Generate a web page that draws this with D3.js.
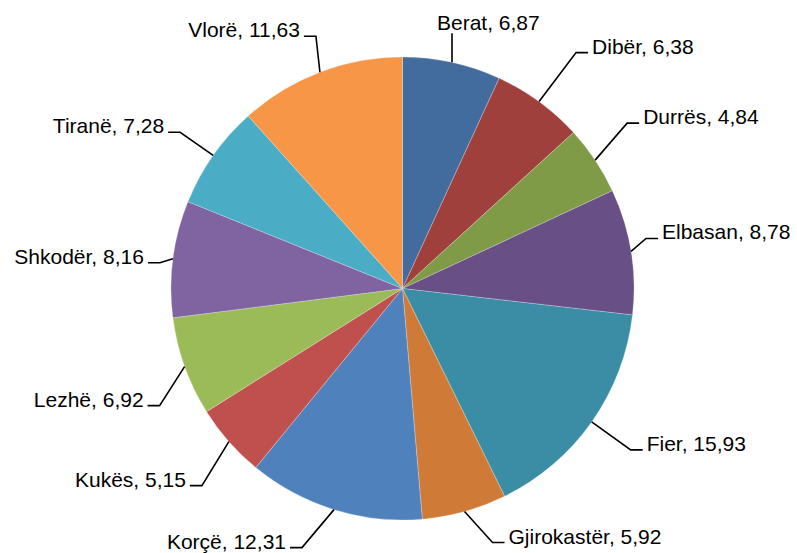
<!DOCTYPE html>
<html>
<head>
<meta charset="utf-8">
<script src="https://cdn.jsdelivr.net/npm/d3@7"></script>
<style>
  html, body { margin: 0; padding: 0; background: #fff; }
  svg { display: block; }
</style>
</head>
<body>
<svg id="chart" width="797" height="553"></svg>
<script>
// ---- data ----
const categories = ["Berat", "Dibër", "Durrës", "Elbasan", "Fier", "Gjirokastër",
                    "Korçë", "Kukës", "Lezhë", "Shkodër", "Tiranë", "Vlorë"];
const values = [6.87, 6.38, 4.84, 8.78, 15.93, 5.92, 12.31, 5.15, 6.92, 8.16, 7.28, 11.63];
const valueLabels = ["6,87", "6,38", "4,84", "8,78", "15,93", "5,92",
                     "12,31", "5,15", "6,92", "8,16", "7,28", "11,63"];

// ---- style / layout ----
const colors = ["#416C9D", "#A0403D", "#7F9B48", "#684F86", "#3A8DA4", "#CF7B37",
                "#4F81BD", "#C0504D", "#9BBB59", "#8064A2", "#4BACC6", "#F79646"];
// leader-line bend offsets relative to the slice's outer mid-point (layout only)
const leaderBend = [[0, -29], [37, -49], [32, -37], [15, -13], [39, 28], [28, 31],
                    [-32, 38], [-27, 44], [-25, 39], [-13, 4], [-33, -23], [-4, -36]];
const cx = 402.5, cy = 288.5, radius = 231.5;
const fontSize = 21;

const svg = d3.select("#chart");
const g = svg.append("g").attr("transform", `translate(${cx},${cy})`);

const data = categories.map((c, i) => ({ name: c, value: values[i], label: valueLabels[i], i }));

const pie = d3.pie().value(d => d.value).sort(null).startAngle(0).endAngle(2 * Math.PI);
const arcs = pie(data);
const arc = d3.arc().innerRadius(0).outerRadius(radius);

g.selectAll("path.slice")
  .data(arcs)
  .enter().append("path")
  .attr("class", "slice")
  .attr("d", arc)
  .attr("fill", d => colors[d.data.i])
  .attr("stroke", "#ffffff")
  .attr("stroke-opacity", 0.3)
  .attr("stroke-width", 0.8);

// labels with leader lines
arcs.forEach(d => {
  const mid = (d.startAngle + d.endAngle) / 2;
  const px = radius * Math.sin(mid), py = -radius * Math.cos(mid);
  const [ox, oy] = leaderBend[d.data.i];
  const bx = px + ox, by = py + oy;
  const txt = `${d.data.name}, ${d.data.label}`;
  if (d.data.i === 0) {
    g.append("path").attr("d", `M${px},${py}L${bx},${by}`)
      .attr("stroke", "#000").attr("stroke-width", 1.6).attr("fill", "none");
    g.append("text").attr("x", bx - 15).attr("y", by - 3)
      .attr("text-anchor", "start").text(txt);
    return;
  }
  const right = Math.sin(mid) > 0;
  const hx = bx + (right ? 12 : -12);
  g.append("path").attr("d", `M${px},${py}L${bx},${by}L${hx},${by}`)
    .attr("stroke", "#000").attr("stroke-width", 1.6).attr("fill", "none");
  g.append("text")
    .attr("x", hx + (right ? 4 : -4))
    .attr("y", by + 1)
    .attr("text-anchor", right ? "start" : "end")
    .text(txt);
});

g.selectAll("text")
  .attr("font-family", "'Liberation Sans', Arial, sans-serif")
  .attr("font-size", fontSize)
  .attr("fill", "#000");
</script>
</body>
</html>
